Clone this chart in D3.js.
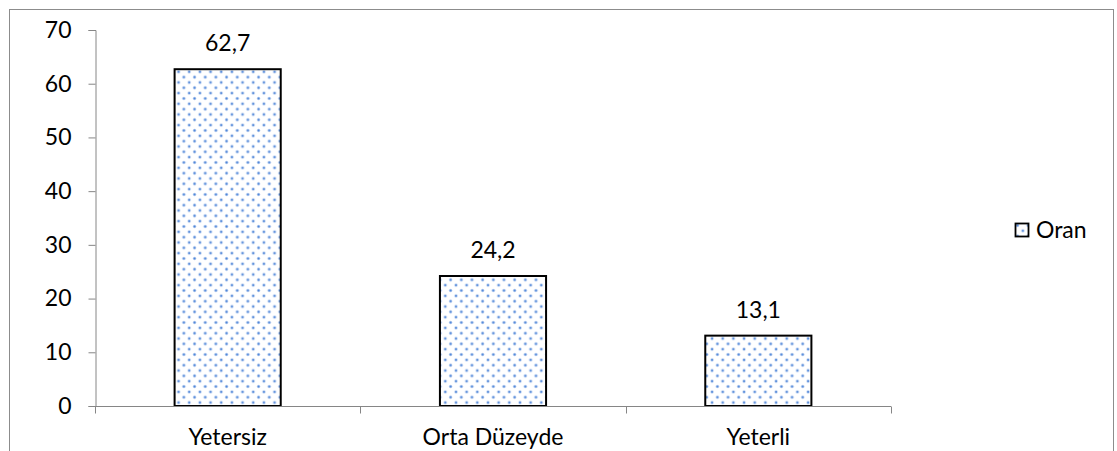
<!DOCTYPE html>
<html>
<head>
<meta charset="utf-8">
<script src="https://cdn.jsdelivr.net/npm/d3@7"></script>
<style>
  html, body { margin: 0; padding: 0; background: #fff; }
  svg { display: block; font-family: Lato, "Open Sans", sans-serif; }
</style>
</head>
<body>
<svg id="chart" width="1117" height="451"></svg>
<script>
// Chart data
const categories = ["Yetersiz", "Orta Düzeyde", "Yeterli"];
const values = [62.7, 24.2, 13.1];
const valueLabels = ["62,7", "24,2", "13,1"];
const yTicks = [0, 10, 20, 30, 40, 50, 60, 70];
const seriesName = "Oran";

const svg = d3.select("#chart");
const FS = 23;

// Dotted fill pattern
const defs = svg.append("defs");
const pat = defs.append("pattern")
  .attr("id", "dots")
  .attr("patternUnits", "userSpaceOnUse")
  .attr("width", 10.67).attr("height", 10.67);
pat.append("rect").attr("width", 10.67).attr("height", 10.67).attr("fill", "#fff");
[[2.5, 2.5], [7.83, 7.83]].forEach(([cx, cy]) => {
  pat.append("circle").attr("cx", cx).attr("cy", cy).attr("r", 1.7).attr("fill", "#b3cbef");
  pat.append("circle").attr("cx", cx).attr("cy", cy).attr("r", 1.0).attr("fill", "#4f86d8");
});

// Outer chart border
svg.append("rect")
  .attr("x", 9.5).attr("y", 9.5)
  .attr("width", 1104).attr("height", 460)
  .attr("fill", "none").attr("stroke", "#8c8c8c").attr("stroke-width", 1);

const plot = { left: 95, right: 891, top: 30, bottom: 406 };

const x = d3.scaleBand()
  .domain(categories)
  .range([plot.left, plot.right])
  .paddingInner(0.6).paddingOuter(0.3);

const y = d3.scaleLinear().domain([0, 70]).range([plot.bottom, plot.top]);

// Y axis
const yAxis = svg.append("g")
  .attr("transform", `translate(${plot.left + 0.5},0)`)
  .call(d3.axisLeft(y).tickValues(yTicks).tickSize(7).tickPadding(17).tickFormat(d3.format("d")));
yAxis.select(".domain").attr("stroke", "#868686");
yAxis.selectAll(".tick line").attr("stroke", "#868686");
yAxis.selectAll(".tick text")
  .attr("fill", "#000").attr("font-size", FS).attr("font-family", "Lato, sans-serif");

// Bars
svg.append("g").selectAll("rect")
  .data(values)
  .join("rect")
  .attr("x", (d, i) => x(categories[i]))
  .attr("y", d => y(d))
  .attr("width", x.bandwidth())
  .attr("height", d => y(0) - y(d))
  .attr("fill", "url(#dots)")
  .attr("stroke", "#000")
  .attr("stroke-width", 2);

// X axis (category boundaries)
const xAxisG = svg.append("g").attr("transform", `translate(0,${plot.bottom + 0.5})`);
xAxisG.append("line")
  .attr("x1", plot.left).attr("x2", plot.right)
  .attr("stroke", "#868686");
const step = (plot.right - plot.left) / categories.length;
const bounds = d3.range(categories.length + 1).map(i => plot.left + i * step);
xAxisG.selectAll("line.tk").data(bounds).join("line")
  .attr("class", "tk")
  .attr("x1", d => Math.round(d) + 0.5).attr("x2", d => Math.round(d) + 0.5)
  .attr("y1", 0).attr("y2", 7)
  .attr("stroke", "#868686");
xAxisG.selectAll("text").data(categories).join("text")
  .attr("x", d => x(d) + x.bandwidth() / 2)
  .attr("y", 38.5)
  .attr("text-anchor", "middle")
  .attr("font-size", FS)
  .attr("fill", "#000")
  .text(d => d);

// Value labels
svg.append("g").selectAll("text")
  .data(values)
  .join("text")
  .attr("x", (d, i) => x(categories[i]) + x.bandwidth() / 2)
  .attr("y", d => y(d) - 18)
  .attr("text-anchor", "middle")
  .attr("font-size", FS)
  .attr("fill", "#000")
  .text((d, i) => valueLabels[i]);

// Legend
const lg = svg.append("g").attr("transform", "translate(1015,223)");
lg.append("rect").attr("x", 0.5).attr("y", 0.5).attr("width", 13).attr("height", 13)
  .attr("fill", "url(#dots)").attr("stroke", "#000").attr("stroke-width", 1.8);
lg.append("text").attr("x", 21).attr("y", 7).attr("dy", "0.35em")
  .attr("font-size", FS).attr("fill", "#000").text(seriesName);
</script>
</body>
</html>
